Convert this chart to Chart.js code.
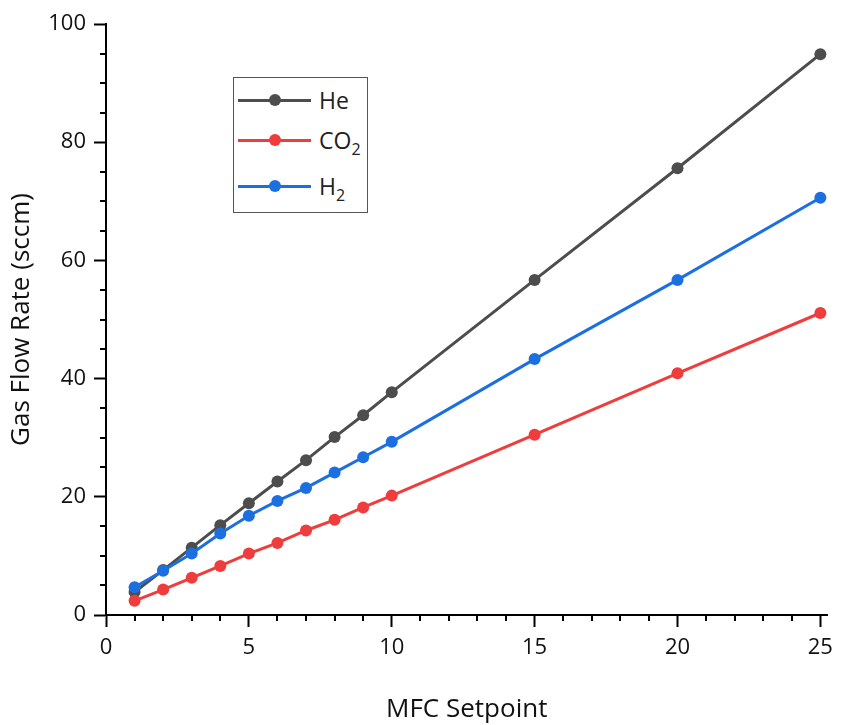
<!DOCTYPE html>
<html>
<head>
<meta charset="utf-8">
<script src="https://cdn.jsdelivr.net/npm/chart.js@4.4.0/dist/chart.umd.min.js"></script>
<style>
    body { margin: 0; background: #fff; }
    #wrap { position: relative; width: 841px; height: 725px; }
    #legend {
        position: absolute; left: 233px; top: 77px; width: 133px; height: 134px;
        border: 1px solid #555; background: #fff;
        font-family: 'Open Sans', sans-serif; font-size: 23px; color: #222;
    }
    .row { position: absolute; left: 4px; height: 30px; display: flex; align-items: center; }
    .sample { position: relative; width: 73px; height: 30px; }
    .sample .ln { position: absolute; left: 0; right: 0; top: 14px; height: 3px; }
    .sample .dot { position: absolute; left: 31px; top: 9px; width: 12px; height: 12px; border-radius: 50%; }
    .row span { margin-left: 8px; line-height: 30px; }
    sub { font-size: 16px; vertical-align: -6px; line-height: 0; }
</style>
</head>
<body>
<div id="wrap">
    <canvas id="chart" width="841" height="725"></canvas>
    <div id="legend">
        <div class="row" style="top:7px"><div class="sample"><div class="ln" style="background:#4d4d4d"></div><div class="dot" style="background:#4d4d4d"></div></div><span>He</span></div>
        <div class="row" style="top:47px"><div class="sample"><div class="ln" style="background:#ef3d3d"></div><div class="dot" style="background:#ef3d3d"></div></div><span>CO<sub>2</sub></span></div>
        <div class="row" style="top:93px"><div class="sample"><div class="ln" style="background:#1c6fe0"></div><div class="dot" style="background:#1c6fe0"></div></div><span>H<sub>2</sub></span></div>
    </div>
</div>
<script>
// MFC setpoint vs measured gas flow
const setpoints = [1, 2, 3, 4, 5, 6, 7, 8, 9, 10, 15, 20, 25];
const heFlow  = [3.9, 7.6, 11.4, 15.2, 18.9, 22.6, 26.2, 30.1, 33.8, 37.7, 56.7, 75.6, 94.9];
const co2Flow = [2.4, 4.3, 6.3, 8.3, 10.4, 12.2, 14.3, 16.1, 18.2, 20.2, 30.5, 40.9, 51.1];
const h2Flow  = [4.7, 7.5, 10.4, 13.8, 16.8, 19.3, 21.5, 24.1, 26.7, 29.3, 43.3, 56.7, 70.6];

const xMajor = [0, 5, 10, 15, 20, 25];
const yMajor = [0, 20, 40, 60, 80, 100];

const tickFont = { family: "'Open Sans', sans-serif", size: 22 };
const titleFont = { family: "'Open Sans', sans-serif", size: 26 };

function pts(ys) {
    return setpoints.map((x, i) => ({ x: x, y: ys[i] }));
}

function series(label, ys, color, order) {
    return {
        label: label,
        data: pts(ys),
        borderColor: color,
        backgroundColor: color,
        borderWidth: 3,
        pointRadius: 6,
        pointHoverRadius: 6,
        pointBorderWidth: 0,
        tension: 0,
        order: order
    };
}

// minor ticks, drawn through the scales
const minorTicks = {
    id: 'minorTicks',
    afterDraw(chart) {
        const ctx = chart.ctx;
        const xs = chart.scales.x, ys = chart.scales.y;
        ctx.save();
        ctx.strokeStyle = '#000';
        ctx.lineWidth = 2;
        ctx.beginPath();
        for (let v = 1; v <= 25; v++) {
            if (v % 5 === 0) continue;
            const px = Math.round(xs.getPixelForValue(v));
            ctx.moveTo(px, ys.bottom);
            ctx.lineTo(px, ys.bottom + 6);
        }
        for (let v = 5; v <= 100; v += 5) {
            if (v % 20 === 0) continue;
            const py = Math.round(ys.getPixelForValue(v));
            ctx.moveTo(xs.left, py);
            ctx.lineTo(xs.left - 6, py);
        }
        ctx.stroke();
        ctx.restore();
    }
};

new Chart(document.getElementById('chart'), {
    type: 'line',
    data: {
        datasets: [
            series('He', heFlow, '#4d4d4d', 3),
            series('CO2', co2Flow, '#ef3d3d', 2),
            series('H2', h2Flow, '#1c6fe0', 1)
        ]
    },
    options: {
        responsive: false,
        animation: false,
        layout: { padding: { top: 24, right: 0, left: 0, bottom: 0 } },
        plugins: { legend: { display: false }, tooltip: { enabled: false } },
        scales: {
            x: {
                type: 'linear',
                min: 0,
                max: 25.25,
                afterBuildTicks: s => { s.ticks = xMajor.map(v => ({ value: v })); },
                afterFit: s => { s.height = 110; },
                border: { display: true, color: '#000', width: 2 },
                grid: { drawOnChartArea: false, tickLength: 12, tickColor: '#000', tickWidth: 2 },
                ticks: { color: '#111', font: tickFont, padding: 8, maxRotation: 0 },
                title: { display: true, text: 'MFC Setpoint', color: '#111', font: titleFont, padding: { top: 0, bottom: 0 } }
            },
            y: {
                type: 'linear',
                min: 0,
                max: 100,
                afterBuildTicks: s => { s.ticks = yMajor.map(v => ({ value: v })); },
                afterFit: s => { s.width = 106; },
                border: { display: true, color: '#000', width: 2 },
                grid: { drawOnChartArea: false, tickLength: 12, tickColor: '#000', tickWidth: 2 },
                ticks: { color: '#111', font: tickFont, padding: 8 },
                title: { display: true, text: 'Gas Flow Rate (sccm)', color: '#111', font: titleFont, padding: { top: 6, bottom: 0 } }
            }
        }
    },
    plugins: [minorTicks]
});
</script>
</body>
</html>
